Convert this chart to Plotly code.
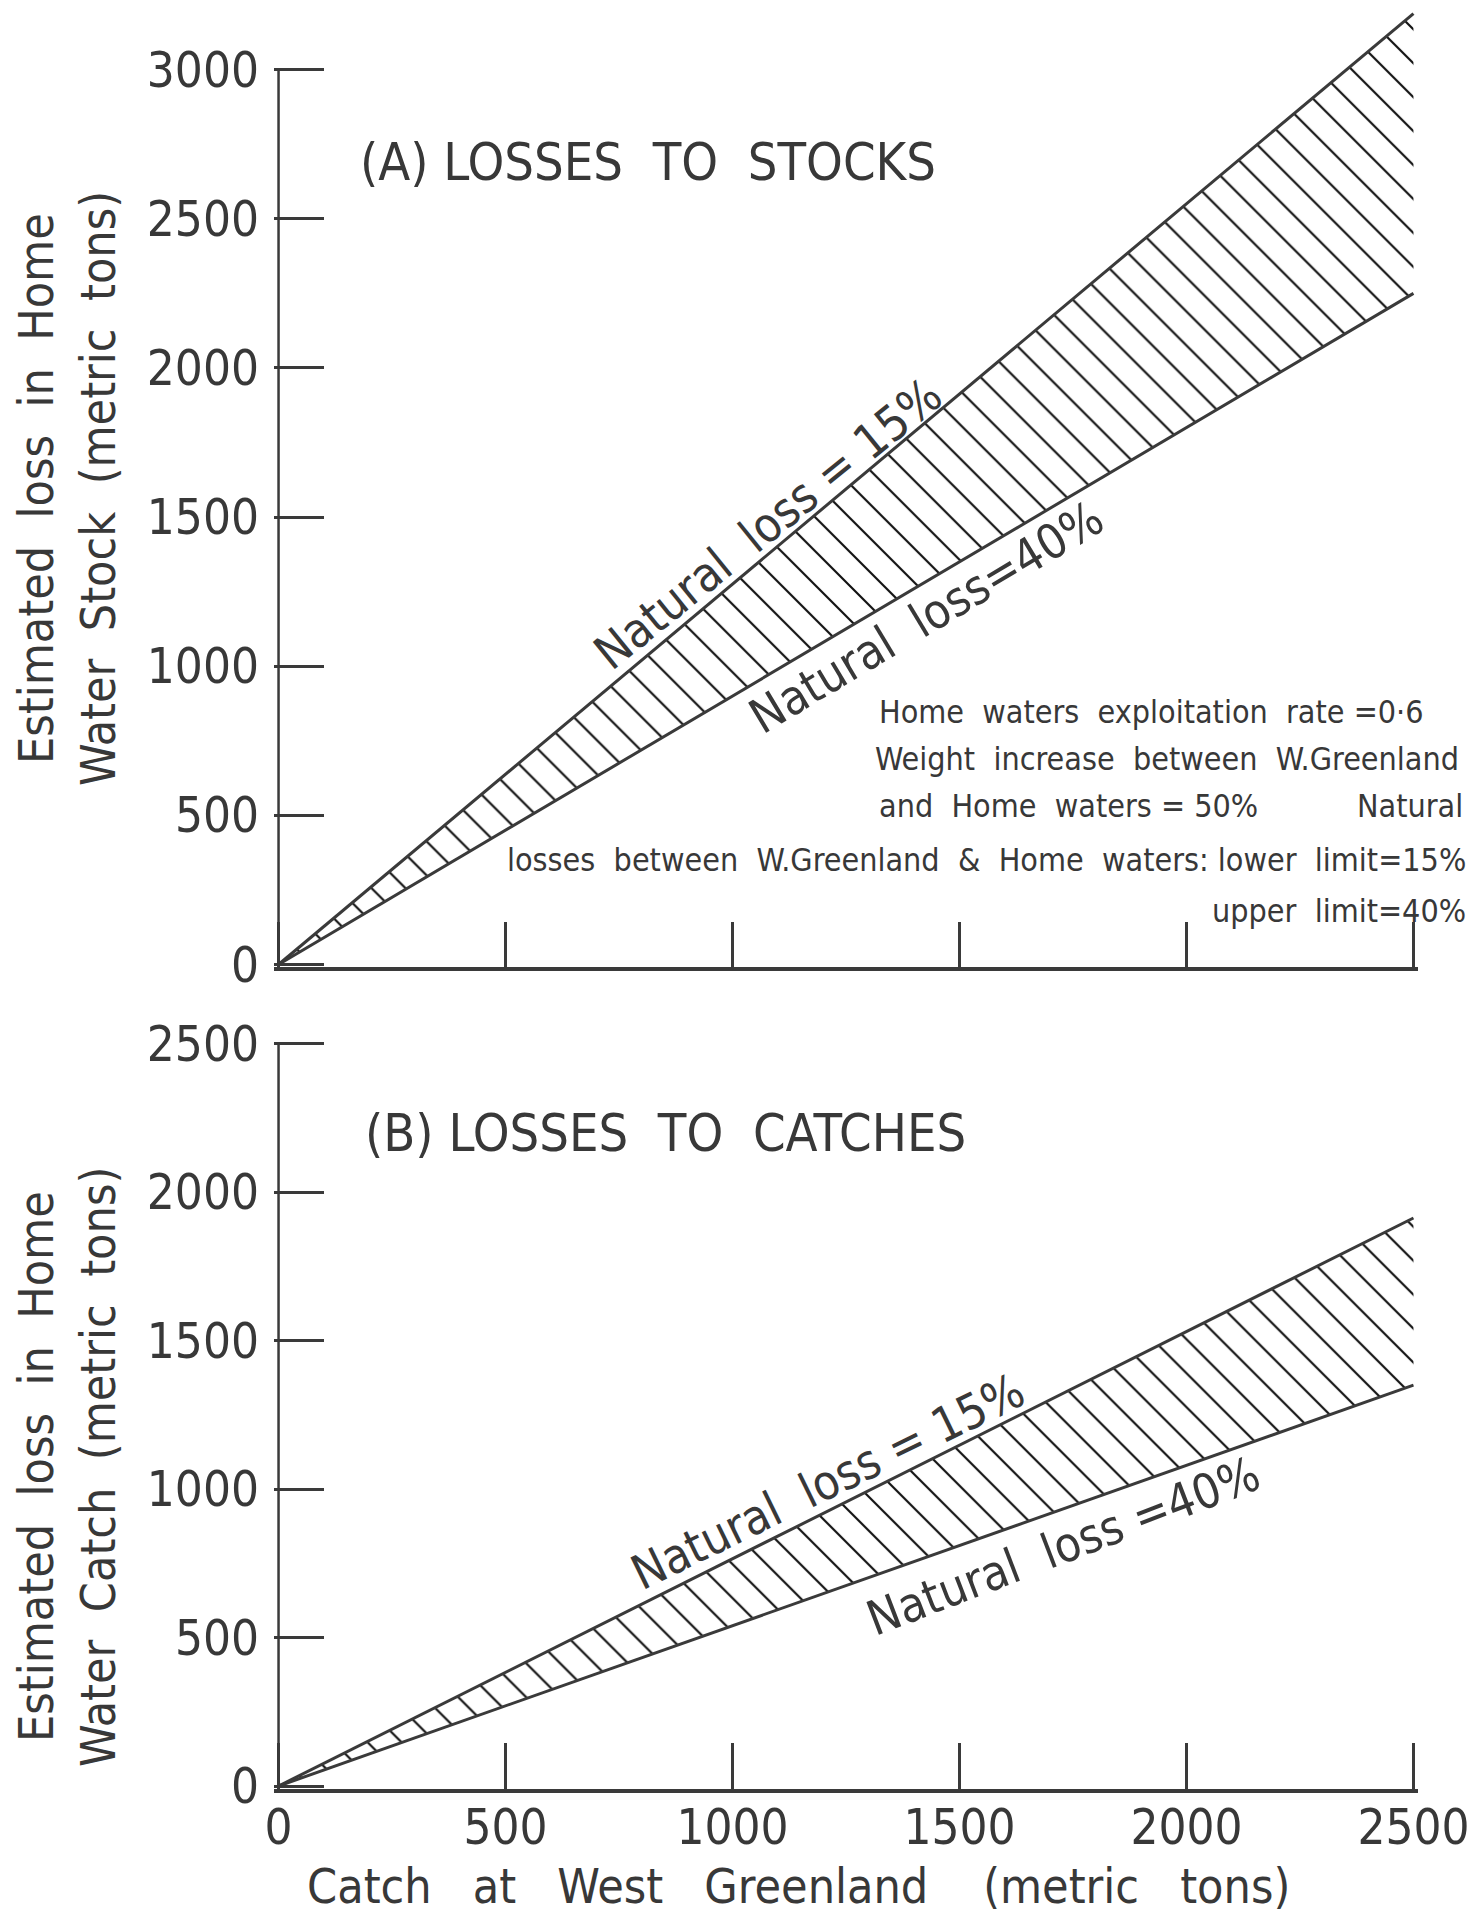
import numpy as np
import plotly.graph_objects as go

# ---------------- data ----------------
catch = [0, 500, 1000, 1500, 2000, 2500]            # catch at West Greenland
stock_15 = [0, 638, 1275, 1913, 2550, 3188]         # (A) natural loss = 15%
stock_40 = [0, 450, 900, 1350, 1800, 2250]          # (A) natural loss = 40%
catch_15 = [0, 383, 765, 1148, 1530, 1913]          # (B) natural loss = 15%
catch_40 = [0, 270, 540, 810, 1080, 1350]           # (B) natural loss = 40%
x_ticks = [0, 500, 1000, 1500, 2000, 2500]
stock_ticks = [0, 500, 1000, 1500, 2000, 2500, 3000]
catch_ticks = [0, 500, 1000, 1500, 2000, 2500]

FONT = "DejaVu Sans Condensed, Liberation Sans Narrow, sans-serif"
INK = "#383838"
LINE = "#3a3a3a"

# figure geometry (body margin removed in the page, so page px == figure px)
W, H = 1475, 1914
ML, MR, MT, MB = 274, 57, 10, 125
PW, PH = W - ML - MR, H - MT - MB


def px_x(px):   # page pixel -> paper x
    return (px - ML) / PW


def px_y(py):   # page pixel -> paper y
    return 1 - (py - MT) / PH


def nb(s):
    return s.replace(" ", "\u00a0")


fig = go.Figure()

hatch = dict(shape="\\", fgcolor="#111111", bgcolor="white", fgopacity=1, size=24, solidity=0.09)

for xa, ya, lo, hi in [("x", "y", stock_40, stock_15), ("x2", "y2", catch_40, catch_15)]:
    fig.add_trace(go.Scatter(x=catch, y=lo, mode="lines", xaxis=xa, yaxis=ya,
                             line=dict(color=LINE, width=3), showlegend=False, hoverinfo="skip"))
    fig.add_trace(go.Scatter(x=catch, y=hi, mode="lines", xaxis=xa, yaxis=ya,
                             line=dict(color=LINE, width=3), fill="tonexty",
                             fillcolor="white", fillpattern=hatch,
                             showlegend=False, hoverinfo="skip"))

axis_common = dict(showgrid=False, zeroline=False, ticks="inside", ticklen=46,
                   tickwidth=2.5, tickcolor=LINE, linecolor=LINE,
                   tickfont=dict(family=FONT, size=49, color=INK), automargin=False)

fig.update_layout(
    width=W, height=H,
    margin=dict(l=ML, r=MR, t=MT, b=MB),
    paper_bgcolor="white", plot_bgcolor="white",
    showlegend=False,
    xaxis=dict(axis_common, domain=[0, 1], range=[-10, 2510], anchor="y",
               tickvals=x_ticks, showticklabels=False, showline=True, linewidth=3.5),
    yaxis=dict(axis_common, domain=[0.4618, 1], range=[-10, 3200], anchor="x",
               tickvals=stock_ticks, showline=False, ticklen=50, ticklabelstandoff=14),
    xaxis2=dict(axis_common, domain=[0, 1], range=[-10, 2510], anchor="y2",
                tickvals=x_ticks, showticklabels=True, showline=True, linewidth=3.5,
                ticklabelstandoff=-8),
    yaxis2=dict(axis_common, domain=[0, 0.4223], range=[-10, 2520], anchor="x2",
                tickvals=catch_ticks, showline=False, ticklen=50, ticklabelstandoff=14),
)

# y spines ending at the top tick
fig.add_shape(type="line", xref="x", yref="y", x0=0, x1=0, y0=0, y1=max(stock_ticks),
              line=dict(color=LINE, width=2.5))
fig.add_shape(type="line", xref="x2", yref="y2", x0=0, x1=0, y0=0, y1=max(catch_ticks),
              line=dict(color=LINE, width=2.5))


def ann(text, x, y, xr="x", yr="y", size=38, angle=0, xanchor="center", yanchor="middle",
        xshift=0, yshift=0):
    fig.add_annotation(text=nb(text), x=x, y=y, xref=xr, yref=yr, showarrow=False,
                       textangle=angle, xanchor=xanchor, yanchor=yanchor,
                       xshift=xshift, yshift=yshift,
                       font=dict(family=FONT, size=size, color=INK))


# panel titles
ann("(A) LOSSES  TO  STOCKS", 175, 2692, size=52, xanchor="left")
ann("(B) LOSSES  TO  CATCHES", 186, 2199, "x2", "y2", size=52, xanchor="left")

# line labels, placed along their line
for text, xpos, series, xr, yr, ang, xs, ys in [
    ("Natural  loss = 15%", 1110, stock_15, "x", "y", -39, -14, 19),
    ("Natural  loss=40%", 1395, stock_40, "x", "y", -31, 14, -27),
    ("Natural  loss = 15%", 1235, catch_15, "x2", "y2", -26, -11, 24),
    ("Natural  loss =40%", 1705, catch_40, "x2", "y2", -21, 10, -33),
]:
    ann(text, xpos, float(np.interp(xpos, catch, series)), xr, yr, size=48, angle=ang,
        xshift=xs, yshift=ys)

# notes (paper coordinates so they are never hidden)
NS = 32
ann("Home  waters  exploitation  rate =0·6", px_x(877), px_y(712), "paper", "paper", size=NS, xanchor="left")
ann("Weight  increase  between  W.Greenland", px_x(873), px_y(759), "paper", "paper", size=NS, xanchor="left")
ann("and  Home  waters = 50%", px_x(877), px_y(806), "paper", "paper", size=NS, xanchor="left")
ann("Natural", px_x(1465), px_y(806), "paper", "paper", size=NS, xanchor="right")
ann("losses  between  W.Greenland  &  Home  waters: lower  limit=15%", px_x(1468), px_y(860),
    "paper", "paper", size=NS, xanchor="right")
ann("upper  limit=40%", px_x(1468), px_y(911), "paper", "paper", size=NS, xanchor="right")

# axis titles
ann("Estimated  loss  in  Home", px_x(36), px_y(489), "paper", "paper", size=48, angle=-90)
ann("Water  Stock  (metric  tons)", px_x(98), px_y(489), "paper", "paper", size=48, angle=-90)
ann("Estimated  loss  in  Home", px_x(36), px_y(1467), "paper", "paper", size=48, angle=-90)
ann("Water  Catch  (metric  tons)", px_x(98), px_y(1467), "paper", "paper", size=48, angle=-90)
ann("Catch   at   West   Greenland    (metric   tons)", px_x(798), px_y(1886), "paper", "paper", size=48)

fig.write_html("out.html", config={"displayModeBar": False},
               post_script="document.body.style.margin='0';document.body.style.overflow='hidden';")
